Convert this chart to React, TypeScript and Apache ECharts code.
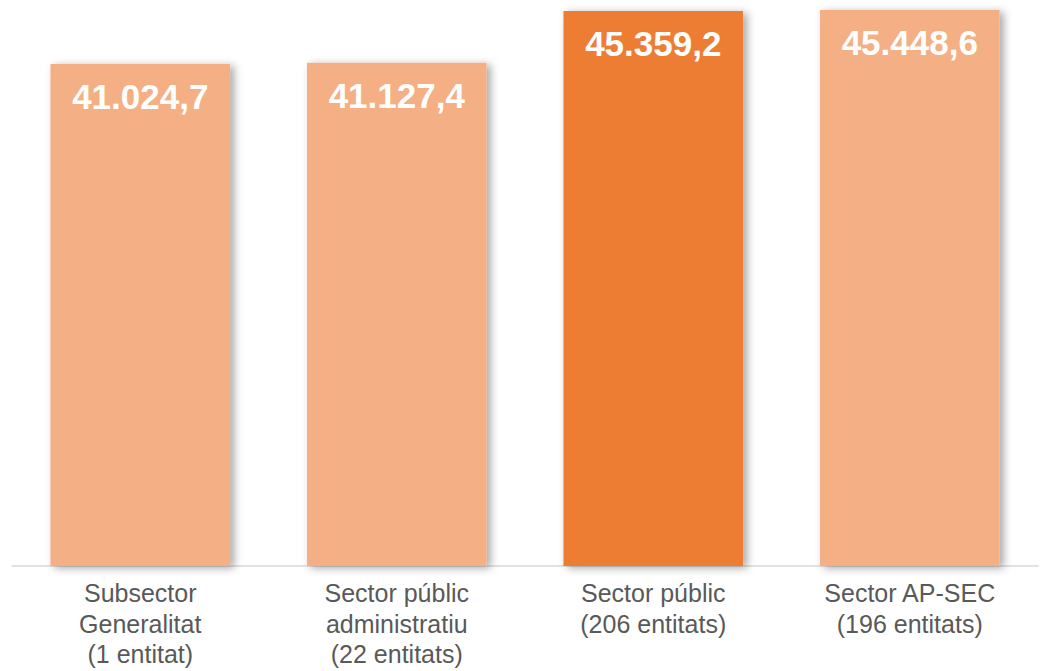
import React, { useEffect, useRef } from "react";
import * as echarts from "echarts";

const categories = [
  "Subsector\nGeneralitat\n(1 entitat)",
  "Sector públic\nadministratiu\n(22 entitats)",
  "Sector públic\n(206 entitats)",
  "Sector AP-SEC\n(196 entitats)",
];
const values = [41024.7, 41127.4, 45359.2, 45448.6];
const highlighted = [false, false, true, false];

const LIGHT = "#F4B084";
const DARK = "#ED7D31";

function fmt(v: number): string {
  const [intPart, dec] = v.toFixed(1).split(".");
  const withDots = intPart.replace(/\B(?=(\d{3})+(?!\d))/g, ".");
  return withDots + "," + dec;
}

export default function App() {
  const ref = useRef<HTMLDivElement>(null);
  useEffect(() => {
    if (!ref.current) return;
    const chart = echarts.init(ref.current, undefined, { renderer: "svg" });
    chart.setOption({
      animation: false,
      backgroundColor: "#ffffff",
      grid: {
        left: 12,
        right: 5,
        top: 10,
        bottom: 105,
        containLabel: false,
        outerBoundsMode: "none",
      },
      xAxis: {
        type: "category",
        data: categories,
        axisLine: { show: true, lineStyle: { color: "#D9D9D9", width: 1.5 } },
        axisTick: { show: false },
        axisLabel: {
          color: "#595959",
          fontFamily: "Liberation Sans, Arial, sans-serif",
          fontSize: 25,
          lineHeight: 30.5,
          margin: 12,
          interval: 0,
        },
      },
      yAxis: {
        type: "value",
        min: 0,
        max: 45448.6,
        show: false,
        splitLine: { show: false },
      },
      series: [
        {
          type: "bar",
          barWidth: "70%",
          data: values.map((v, i) => ({
            value: v,
            itemStyle: {
              color: highlighted[i] ? DARK : LIGHT,
              shadowColor: "rgba(0,0,0,0.35)",
              shadowBlur: 8,
              shadowOffsetX: 4,
              shadowOffsetY: 2,
            },
          })),
          label: {
            show: true,
            position: "insideTop",
            distance: 15,
            color: "#ffffff",
            fontWeight: "bold",
            fontFamily: "Liberation Sans, Arial, sans-serif",
            fontSize: 35,
            formatter: (p: any) => fmt(p.value),
          },
        },
      ],
    });
    return () => chart.dispose();
  }, []);
  return (
    <div
      ref={ref}
      style={{ position: "fixed", left: 0, top: 0, width: 1043, height: 671 }}
    />
  );
}
